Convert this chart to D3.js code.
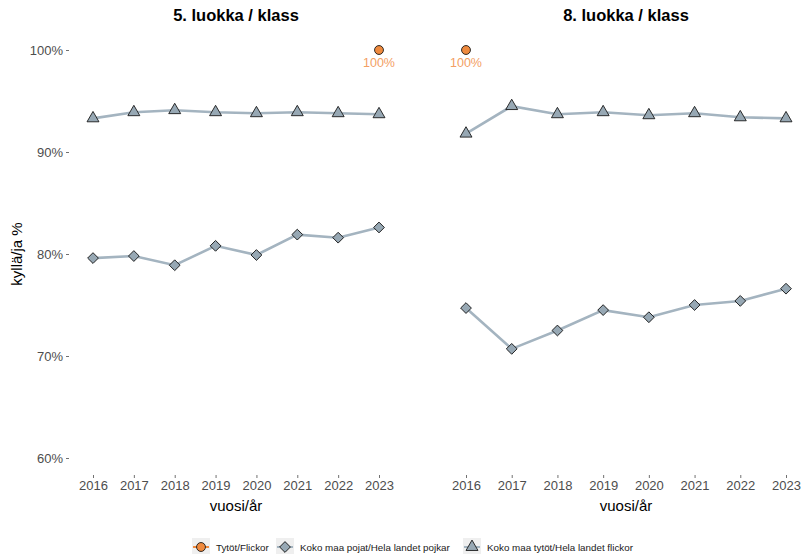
<!DOCTYPE html>
<html>
<head>
<meta charset="utf-8">
<script src="https://cdn.jsdelivr.net/npm/d3@7"></script>
<style>
  body { margin: 0; background: #fff; }
  svg { font-family: "Liberation Sans", Arial, sans-serif; display: block; }
  .tick text { fill: #4d4d4d; font-size: 13px; }
  .tick line { stroke: #4d4d4d; stroke-width: 0.8; }
  .domain { display: none; }
</style>
</head>
<body>
<div id="container"></div>
<script>
// data
const years = [2016, 2017, 2018, 2019, 2020, 2021, 2022, 2023];
const yTicks = [60, 70, 80, 90, 100];
const seriesNames = ["Tytöt/Flickor", "Koko maa pojat/Hela landet pojkar", "Koko maa tytöt/Hela landet flickor"];
const panelTitles = ["5. luokka / klass", "8. luokka / klass"];

const g5Girls = [93.3, 93.9, 94.1, 93.9, 93.8, 93.9, 93.8, 93.7];
const g5Boys = [79.6, 79.8, 78.9, 80.8, 79.9, 81.9, 81.6, 82.6];
const g5Local = [{ year: 2023, value: 100 }];

const g8Girls = [91.8, 94.5, 93.7, 93.9, 93.6, 93.8, 93.4, 93.3];
const g8Boys = [74.7, 70.7, 72.5, 74.5, 73.8, 75.0, 75.4, 76.6];
const g8Local = [{ year: 2016, value: 100 }];

const width = 802, height = 554;
const lineCol = "#a4b4c0", markFill = "#97a8b4", orange = "#ef8a3e", orangeTxt = "#f3a064";

const svg = d3.select("#container").append("svg")
  .attr("width", width).attr("height", height);

const y = d3.scaleLinear().domain([60, 100]).range([458, 50]);

const panels = [
  { title: panelTitles[0], x: d3.scaleLinear().domain([2016, 2023]).range([93, 379]), girls: g5Girls, boys: g5Boys, local: g5Local, yAxis: true },
  { title: panelTitles[1], x: d3.scaleLinear().domain([2016, 2023]).range([466, 786]), girls: g8Girls, boys: g8Boys, local: g8Local, yAxis: false }
];

const triangle = d3.symbol().type(d3.symbolTriangle).size(62);
const square = d3.symbol().type(d3.symbolSquare).size(58);
const circle = d3.symbol().type(d3.symbolCircle).size(62);

panels.forEach(p => {
  const [x0, x1] = p.x.range();
  const cx = (x0 + x1) / 2;

  svg.append("text")
    .attr("x", cx).attr("y", 21)
    .attr("text-anchor", "middle")
    .style("font-weight", "bold").style("font-size", "16.5px")
    .text(p.title);

  // x axis
  svg.append("g")
    .attr("transform", "translate(0,475)")
    .call(d3.axisBottom(p.x).tickValues(years).tickFormat(d3.format("d")).tickSize(3).tickPadding(3));

  svg.append("text")
    .attr("x", cx).attr("y", 511)
    .attr("text-anchor", "middle")
    .style("font-size", "15px")
    .text("vuosi/år");

  if (p.yAxis) {
    svg.append("g")
      .attr("transform", "translate(69,0)")
      .call(d3.axisLeft(y).tickValues(yTicks).tickFormat(d => d + "%").tickSize(3).tickPadding(3));
  }

  const line = d3.line().x((d, i) => p.x(years[i])).y(d => y(d));

  [p.girls, p.boys].forEach(vals => {
    svg.append("path")
      .datum(vals)
      .attr("d", line)
      .attr("fill", "none")
      .attr("stroke", lineCol)
      .attr("stroke-width", 2.6);
  });

  svg.selectAll(null)
    .data(p.boys)
    .enter().append("path")
    .attr("d", square)
    .attr("transform", (d, i) => `translate(${p.x(years[i])},${y(d)}) rotate(45)`)
    .attr("fill", markFill).attr("stroke", "#1a1a1a").attr("stroke-width", 0.9);

  svg.selectAll(null)
    .data(p.girls)
    .enter().append("path")
    .attr("d", triangle)
    .attr("transform", (d, i) => `translate(${p.x(years[i])},${y(d)})`)
    .attr("fill", markFill).attr("stroke", "#1a1a1a").attr("stroke-width", 0.9);

  svg.selectAll(null)
    .data(p.local)
    .enter().append("path")
    .attr("d", circle)
    .attr("transform", d => `translate(${p.x(d.year)},${y(d.value)})`)
    .attr("fill", orange).attr("stroke", "#1a1a1a").attr("stroke-width", 0.9);

  svg.selectAll(null)
    .data(p.local)
    .enter().append("text")
    .attr("x", d => p.x(d.year)).attr("y", d => y(d.value) + 17)
    .attr("text-anchor", "middle")
    .attr("fill", orangeTxt).style("font-size", "12.5px")
    .text(d => d.value + "%");
});

svg.append("text")
  .attr("transform", "translate(22,254) rotate(-90)")
  .attr("text-anchor", "middle")
  .style("font-size", "15px")
  .text("kyllä/ja %");

// legend
const legendItems = [
  { name: seriesNames[0], x: 192, sym: circle, fill: orange, line: orange, rot: 0 },
  { name: seriesNames[1], x: 276, sym: square, fill: markFill, line: lineCol, rot: 45 },
  { name: seriesNames[2], x: 463, sym: triangle, fill: markFill, line: lineCol, rot: 0 }
];
const lg = svg.append("g").attr("transform", "translate(0,547)");
legendItems.forEach(it => {
  const g = lg.append("g").attr("transform", `translate(${it.x},0)`);
  g.append("rect").attr("x", 0).attr("y", -9).attr("width", 18).attr("height", 18).attr("fill", "#efefef");
  g.append("line").attr("x1", 1).attr("x2", 17).attr("y1", 0).attr("y2", 0)
    .attr("stroke", it.line).attr("stroke-width", 2);
  g.append("path").attr("d", it.sym)
    .attr("transform", `translate(9,0) rotate(${it.rot})`)
    .attr("fill", it.fill).attr("stroke", "#1a1a1a").attr("stroke-width", 0.9);
  g.append("text").attr("x", 24).attr("y", 3.5)
    .style("font-size", "9.8px").attr("fill", "#1a1a1a")
    .text(it.name);
});
</script>
</body>
</html>
